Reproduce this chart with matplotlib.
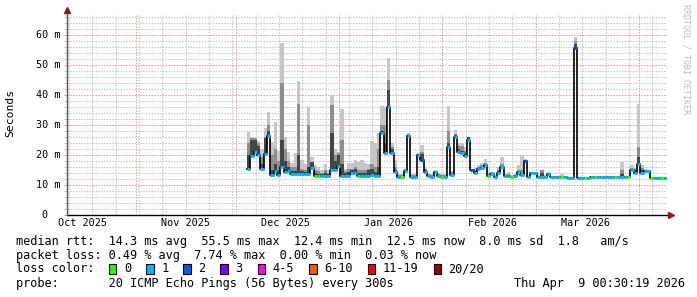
import datetime as dt

import matplotlib

matplotlib.use("Agg")
import matplotlib.pyplot as plt
import matplotlib.transforms as mtransforms
import numpy as np
from matplotlib.patches import Rectangle

W, H = 697, 297
MONO = "DejaVu Sans Mono"

# ---- data (median rtt in ms, smoke levels above it, loss bucket per day) ----
t0 = dt.datetime(2025, 10, 11, 9, 36)   # left edge of the plot
span_days = 180
first_day = 54                           # first day that has data

median_ms = [
    15.2, 19.8, 21.0, 20.0, 15.3, 20.2, 26.3, 13.3, 14.8, 13.3,
    16.1, 14.5, 14.8, 13.8, 13.7, 13.7, 13.7, 13.7, 13.7, 15.6,
    13.1, 13.1, 13.1, 13.1, 13.1, 15.0, 15.0, 16.4, 13.1, 13.1,
    13.1, 13.9, 13.9, 13.1, 13.1, 13.1, 13.1, 13.4, 13.1, 13.1,
    27.2, 20.6, 36.1, 20.6, 14.4, 12.8, 12.8, 14.8, 26.2, 12.8,
    12.8, 19.9, 18.5, 14.2, 13.0, 12.8, 14.4, 13.1, 12.8, 12.8,
    22.8, 13.4, 26.1, 21.1, 20.8, 19.7, 25.0, 15.0, 13.9, 15.3,
    15.6, 16.7, 13.0, 13.7, 12.6, 13.9, 16.1, 13.0, 13.0, 12.6,
    12.9, 14.4, 13.3, 18.1, 12.6, 13.9, 13.9, 12.8, 12.8, 12.8,
    13.6, 12.6, 12.6, 12.6, 12.6, 12.8, 12.4, 12.4, 55.6, 12.4,
    12.4, 12.4, 12.2, 12.8, 12.8, 12.8, 12.8, 12.8, 12.8, 12.8,
    12.8, 12.8, 12.8, 12.8, 12.8, 15.0, 14.1, 17.0, 14.1, 14.7,
    14.8, 12.4, 12.4, 12.4, 12.4, 12.4,
]
smoke_dark = [
    20.0, 25.0, 25.0, 23.0, 17.0, 25.6, 28.0, 15.0, 17.0, 15.0,
    25.0, 18.0, 16.0, 14.5, 14.5, 20.0, 14.5, 14.2, 16.0, 17.8,
    14.0, 13.8, 13.5, 14.0, 13.5, 27.2, 18.0, 20.0, 17.0, 14.0,
    14.4, 15.0, 15.2, 14.0, 14.0, 14.0, 15.0, 15.3, 14.4, 16.0,
    28.0, 24.0, 41.7, 22.0, 15.0, 13.0, 13.0, 15.0, 26.8, 13.0,
    13.0, 20.3, 20.3, 15.0, 13.2, 13.0, 14.6, 13.3, 13.0, 13.0,
    23.9, 13.8, 26.5, 22.0, 21.5, 20.3, 25.9, 15.2, 14.5, 15.6,
    16.0, 17.0, 13.4, 14.0, 12.8, 14.5, 16.4, 13.2, 13.4, 12.8,
    13.1, 14.6, 13.8, 18.3, 12.8, 14.0, 14.0, 13.0, 14.0, 13.0,
    13.8, 12.7, 12.7, 12.7, 12.7, 12.9, 12.5, 12.5, 57.0, 12.5,
    12.5, 12.5, 12.3, 12.9, 12.9, 12.9, 12.9, 12.9, 12.9, 12.9,
    12.9, 12.9, 13.5, 12.9, 12.9, 15.3, 15.0, 19.4, 15.0, 15.0,
    15.0, 12.5, 12.5, 12.5, 12.5, 12.5,
]
smoke_mid = [
    24.0, 25.5, 25.5, 24.0, 19.5, 26.0, 30.0, 20.0, 22.0, 18.0,
    44.0, 22.0, 18.0, 16.0, 16.0, 37.0, 15.5, 15.0, 30.0, 17.8,
    15.0, 14.5, 14.0, 15.0, 14.0, 36.7, 20.0, 20.6, 25.0, 14.5,
    15.5, 15.2, 16.0, 15.0, 15.0, 15.0, 15.3, 17.0, 16.0, 22.0,
    30.0, 30.0, 45.0, 22.8, 16.0, 13.2, 13.2, 15.2, 27.0, 13.2,
    13.2, 20.4, 21.0, 15.5, 13.5, 13.2, 14.8, 13.5, 13.2, 13.2,
    28.0, 14.2, 27.0, 23.0, 23.0, 21.5, 26.0, 15.3, 15.0, 16.0,
    16.7, 17.2, 13.8, 14.2, 13.0, 15.0, 17.0, 13.4, 13.8, 13.0,
    13.3, 15.0, 15.0, 18.4, 13.0, 14.1, 14.2, 13.1, 15.0, 13.1,
    14.0, 12.8, 12.8, 12.8, 12.9, 13.0, 12.6, 12.6, 58.0, 12.6,
    12.6, 12.6, 12.4, 13.0, 13.0, 13.0, 13.0, 13.0, 13.0, 13.0,
    13.0, 13.0, 15.0, 13.0, 13.0, 15.8, 15.3, 22.8, 15.8, 15.1,
    15.0, 12.6, 12.6, 12.6, 12.6, 12.6,
]
smoke_max = [
    27.8, 26.0, 25.6, 24.5, 22.0, 28.9, 34.3, 24.4, 31.0, 21.5,
    57.2, 26.0, 21.0, 17.5, 20.5, 44.8, 18.3, 17.0, 35.9, 19.4,
    16.7, 16.0, 15.0, 17.0, 15.0, 40.0, 22.0, 21.0, 35.3, 15.5,
    17.2, 17.2, 18.3, 17.8, 18.3, 17.2, 17.0, 24.8, 24.1, 27.4,
    36.3, 36.0, 52.2, 24.0, 18.3, 13.5, 13.5, 15.5, 27.2, 13.5,
    13.5, 20.5, 23.3, 16.0, 14.0, 13.5, 15.0, 14.0, 13.5, 13.5,
    36.3, 14.8, 28.3, 23.9, 23.9, 22.8, 26.1, 15.5, 15.6, 16.7,
    17.2, 18.6, 14.4, 14.4, 13.2, 16.0, 19.4, 13.6, 14.4, 13.2,
    13.5, 16.7, 20.0, 18.6, 13.2, 14.2, 14.4, 13.2, 15.0, 13.2,
    14.4, 12.9, 12.9, 12.9, 13.5, 13.1, 12.7, 12.7, 59.4, 12.7,
    12.7, 12.7, 12.5, 13.1, 13.1, 13.1, 13.1, 13.1, 13.1, 13.1,
    13.1, 13.1, 17.8, 13.1, 13.1, 16.7, 15.6, 37.0, 16.7, 15.2,
    15.0, 12.7, 12.7, 12.7, 12.7, 12.7,
]
loss_idx = [
    1, 1, 1, 1, 1, 1, 1, 1, 1, 1,
    1, 1, 1, 1, 1, 1, 1, 1, 1, 1,
    0, 0, 1, 1, 1, 1, 1, 1, 1, 1,
    1, 1, 1, 0, 1, 1, 1, 1, 1, 1,
    1, 1, 1, 1, 1, 1, 0, 1, 1, 1,
    1, 1, 2, 1, 1, 1, 1, 1, 0, 1,
    1, 1, 1, 1, 1, 1, 1, 2, 1, 1,
    1, 1, 0, 1, 1, 1, 1, 1, 1, 0,
    1, 1, 1, 2, 1, 1, 1, 1, 1, 1,
    1, 1, 1, 1, 0, 1, 1, 1, 2, 1,
    1, 0, 1, 1, 0, 1, 1, 1, 1, 1,
    0, 1, 1, 1, 0, 1, 1, 1, 1, 1,
    1, 0, 1, 1, 0, 1,
]

loss_labels = ["0", "1", "2", "3", "4-5", "6-10", "11-19", "20/20"]
loss_colors = ["#26ff00", "#00b8ff", "#0059ff", "#7e00ff",
               "#ff00ff", "#ff5500", "#ff0000", "#a10000"]

month_labels = ["Oct 2025", "Nov 2025", "Dec 2025", "Jan 2026", "Feb 2026", "Mar 2026"]
label_dates = [dt.datetime(2025, 10, 16), dt.datetime(2025, 11, 16), dt.datetime(2025, 12, 16),
               dt.datetime(2026, 1, 16), dt.datetime(2026, 2, 16), dt.datetime(2026, 3, 16)]
month_starts = [dt.datetime(2025, 11, 1), dt.datetime(2025, 12, 1), dt.datetime(2026, 1, 1),
                dt.datetime(2026, 2, 1), dt.datetime(2026, 3, 1), dt.datetime(2026, 4, 1)]
ytick_values = [0, 10, 20, 30, 40, 50, 60]
ytick_labels = ["0", "10 m", "20 m", "30 m", "40 m", "50 m", "60 m"]

legend_lines = [
    "median rtt:  14.3 ms avg  55.5 ms max  12.4 ms min  12.5 ms now  8.0 ms sd  1.8   am/s",
    "packet loss: 0.49 % avg  7.74 % max  0.00 % min  0.03 % now",
    "loss color:",
    "probe:       20 ICMP Echo Pings (56 Bytes) every 300s",
]
stamp = "Thu Apr  9 00:30:19 2026"


def days_since_t0(when):
    return (when - t0).total_seconds() / 86400.0


def px(x, y):
    # pixel position (from top-left) -> figure fraction
    return x / W, 1 - y / H


fig = plt.figure(figsize=(W / 100, H / 100), dpi=100, facecolor="white")
ax = fig.add_axes([67 / W, (H - 215) / H, 600 / W, 200 / H])
ax.set_xlim(0, span_days)
ax.set_ylim(0, 200 / 3)
for s in ax.spines.values():
    s.set_visible(False)

# grid: 2 m / weekly dotted gray, 10 m / month starts dotted red
minor_gray = "#c4c4c4"
major_red = "#eb9696"
ax.set_yticks(ytick_values)
ax.set_yticks([v for v in range(2, 67, 2) if v % 10], minor=True)
ax.set_xticks([days_since_t0(m) for m in month_starts])
sundays = []
d = t0.replace(hour=0, minute=0) + dt.timedelta(days=1)
while days_since_t0(d) < span_days:
    if d.weekday() == 6:
        sundays.append(days_since_t0(d))
    d += dt.timedelta(days=1)
ax.set_xticks(sundays, minor=True)
ax.grid(which="minor", color=minor_gray, linestyle=(0, (1.4, 1.4)), linewidth=0.72)
ax.grid(which="major", color=major_red, linestyle=(0, (1.4, 1.4)), linewidth=0.72)
ax.set_axisbelow(True)
ax.tick_params(labelleft=False, labelbottom=False)
ax.tick_params(axis="x", which="both", length=0)
ax.tick_params(axis="y", which="major", length=2, width=0.7, color=major_red)
ax.tick_params(axis="y", which="minor", length=2, width=0.7, color=minor_gray)

# smoke + median
n = len(median_ms)
xe = np.arange(first_day, first_day + n + 1)
med = np.append(median_ms, median_ms[-1])
for top, col in [(smoke_max, "#c6c6c6"), (smoke_mid, "#8e8e8e"), (smoke_dark, "#454545")]:
    ax.fill_between(xe, med, np.append(top, top[-1]), step="post", color=col, linewidth=0)
ax.step(xe, med, where="post", color="black", linewidth=1.2)
ax.hlines(median_ms, xe[:-1], xe[1:], colors=[loss_colors[i] for i in loss_idx], linewidth=2.2)

# axes with arrows
ax.plot([0, 1.002], [0, 0], transform=ax.transAxes, color="black", linewidth=1.0, clip_on=False)
ax.plot([0, 0], [0, 1.01], transform=ax.transAxes, color="#555555", linewidth=1.0, clip_on=False)
ax.plot([1.0067], [0], transform=ax.transAxes, marker=">", markersize=4.5, color="#8b1a1a",
        linestyle="none", clip_on=False)
ax.plot([0], [1.0225], transform=ax.transAxes, marker="^", markersize=4.5, color="#8b1a1a",
        linestyle="none", clip_on=False)

# tick labels
ylab_tr = mtransforms.blended_transform_factory(ax.transAxes, ax.transData)
for v, lab in zip(ytick_values, ytick_labels):
    right = 60 if lab.endswith("m") else 47.5
    ax.text((right - 67) / 600, v, lab, transform=ylab_tr, ha="right", va="center",
            family=MONO, fontsize=7.3, color="black")
xlab_tr = mtransforms.blended_transform_factory(ax.transData, ax.transAxes)
for when, lab in zip(label_dates, month_labels):
    ax.text(days_since_t0(when), -3 / 200, lab, transform=xlab_tr, ha="center", va="top",
            family=MONO, fontsize=7.3, color="black")

fig.text(*px(10, 113), "Seconds", rotation=90, ha="center", va="center",
         family=MONO, fontsize=8.2)
fig.text(*px(686, 4), "RRDTOOL / TOBI OETIKER", rotation=270, ha="center", va="top",
         family=MONO, fontsize=6, color="#bdbdbd")

# legend
char_w = 7.15
for row, line in enumerate(legend_lines):
    fig.text(*px(16, 241 + 14 * row), line, ha="left", va="center", family=MONO, fontsize=8.52)
fig.text(*px(685.5, 283), stamp, ha="right", va="center", family=MONO, fontsize=8.52)

c = 13.0
for lab, col in zip(loss_labels, loss_colors):
    bx = 16 + c * char_w
    fig.add_artist(Rectangle(px(bx, 274), 7.5 / W, 10 / H, transform=fig.transFigure,
                             facecolor=col, edgecolor="black", linewidth=0.8))
    fig.text(*px(bx + 15, 269), lab, ha="left", va="center", family=MONO, fontsize=8.52)
    c += 2 + len(lab) + 2.2

fig.savefig("out.png", dpi=100, facecolor="white")
plt.close(fig)
